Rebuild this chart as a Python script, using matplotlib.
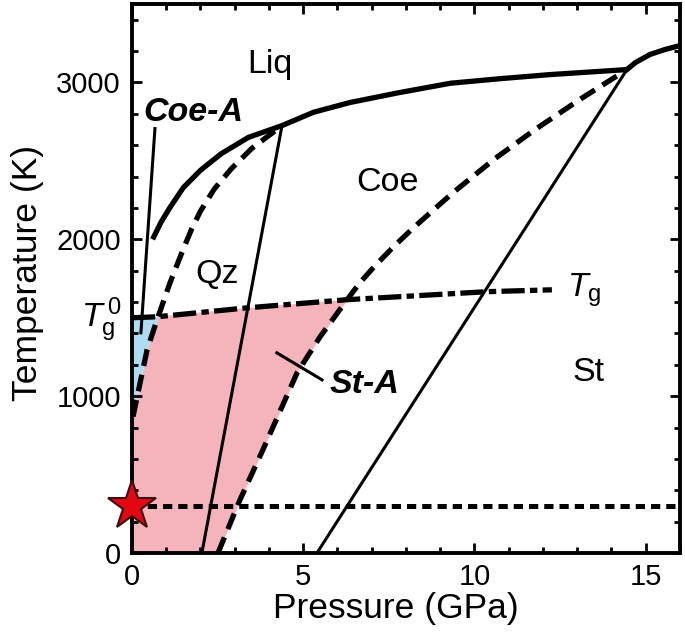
import numpy as np
import matplotlib
matplotlib.use("Agg")
import matplotlib.pyplot as plt
from matplotlib.patches import Polygon
from matplotlib.ticker import MultipleLocator

plt.rcParams['font.family'] = ['Liberation Sans', 'DejaVu Sans']
plt.rcParams['mathtext.fontset'] = 'custom'
plt.rcParams['mathtext.rm'] = 'Liberation Sans'
plt.rcParams['mathtext.it'] = 'Liberation Sans:italic'

# liquidus (thick solid)
liq_P = [0.6, 0.85, 1.1, 1.5, 2.0, 2.6, 3.4, 4.38, 5.3, 6.36, 7.82, 9.3, 10.8, 12.2, 14.45, 14.7, 15.12, 15.56, 16.0]
liq_T = [2000, 2110, 2200, 2330, 2440, 2545, 2650, 2725, 2810, 2872, 2936, 2995, 3025, 3050, 3082, 3127, 3178, 3210, 3235]

# Qz / Coe metastable boundary (dashed, left)
d1_P = [0.03, 0.15, 0.44, 0.73, 1.11, 1.49, 1.75, 2.0, 2.4, 2.9, 3.5, 4.38]
d1_T = [870, 996, 1295, 1487, 1723, 1934, 2070, 2180, 2320, 2450, 2580, 2725]

# Coe / St metastable boundary (dashed, right)
d2_P = [2.51, 3.15, 3.82, 4.82, 5.49, 6.28, 6.65, 7.04, 7.6, 8.2, 8.8, 9.37, 10.6, 11.77, 13.1, 14.45]
d2_T = [0, 338, 657, 1149, 1378, 1615, 1722, 1818, 1945, 2070, 2187, 2297, 2515, 2700, 2895, 3082]

# Qz-Coe and Coe-St transitions (thin solid)
qc_P = [2.04, 4.38]
qc_T = [0, 2725]
cs_P = [5.4, 14.45]
cs_T = [0, 3082]

# glass transition (dash-dot)
tg_P = [0, 0.73, 3.36, 6.28, 10.36, 12.26]
tg_T = [1500, 1506, 1563, 1615, 1666, 1678]

# Coe-A pointer and St-A tick
coeA_P = [0.67, 0.26]
coeA_T = [2706, 1404]
stA_P = [4.23, 5.55]
stA_T = [1276, 1104]

room_T = 300

fig = plt.figure(figsize=(6.85, 6.38), dpi=100)
ax = fig.add_axes([0.1927, 0.1332, 0.8, 0.8605])
ax.set_xlim(0, 16)
ax.set_ylim(0, 3500)

# fills below Tg line
T_grid = np.linspace(0, 1800, 400)
left = np.where(T_grid < d1_T[0], 0, np.interp(T_grid, d1_T, d1_P))
right = np.interp(T_grid, d2_T, d2_P)
clip = Polygon(list(zip([0] + tg_P + [16, 16], [0] + tg_T + [tg_T[-1], 0])),
               closed=True, transform=ax.transData)
pink = ax.fill_betweenx(T_grid, left, right, color='#f5b4bb', lw=0, zorder=1)
pink.set_clip_path(clip)
Tb = np.linspace(d1_T[0], 1800, 200)
blue = ax.fill_betweenx(Tb, 0, np.interp(Tb, d1_T, d1_P), color='#aedcf2', lw=0, zorder=1)
blue.set_clip_path(clip)

ax.plot(liq_P, liq_T, color='k', lw=3.8, solid_capstyle='butt', zorder=3)
ax.plot(d1_P, d1_T, color='k', lw=3.8, dashes=(3.2, 1.7), zorder=3)
ax.plot(d2_P, d2_T, color='k', lw=3.8, dashes=(3.2, 1.7), zorder=3)
ax.plot(qc_P, qc_T, color='k', lw=2.2, zorder=3)
ax.plot(cs_P, cs_T, color='k', lw=2.2, zorder=3)
ax.plot(tg_P, tg_T, color='k', lw=3.8, dashes=(4.4, 1, 1.4, 1), zorder=3)
ax.plot(coeA_P, coeA_T, color='k', lw=2.2, zorder=3)
ax.plot(stA_P, stA_T, color='k', lw=2.2, zorder=3)
ax.plot([0, 16], [room_T, room_T], color='k', lw=3.6, dashes=(1.85, 1.2), zorder=3)
ax.plot([0], [room_T], marker='*', ms=37, color='#e30613', mec='#3a1010', mew=1.5,
        clip_on=False, zorder=5)

fs = 24.5
ax.text(4.03, 3114, 'Liq', fontsize=fs, ha='center', va='center')
ax.text(7.47, 2361, 'Coe', fontsize=fs, ha='center', va='center')
ax.text(2.48, 1774, 'Qz', fontsize=fs, ha='center', va='center')
ax.text(13.34, 1149, 'St', fontsize=fs, ha='center', va='center')
ax.text(5.78, 1075, 'St-A', fontsize=fs, fontweight='bold', fontstyle='italic',
        ha='left', va='center')
ax.text(0.33, 2808, 'Coe-A', fontsize=fs, fontweight='bold', fontstyle='italic',
        ha='left', va='center')
ax.text(12.7, 1678, r'$T_\mathrm{g}$', fontsize=fs, ha='left', va='center')
ax.text(-0.3, 1490, r'$T_\mathrm{g}^{\,0}$', fontsize=fs, ha='right', va='center',
        clip_on=False)

ax.xaxis.set_major_locator(MultipleLocator(5))
ax.xaxis.set_minor_locator(MultipleLocator(1))
ax.yaxis.set_major_locator(MultipleLocator(1000))
ax.yaxis.set_minor_locator(MultipleLocator(200))
ax.tick_params(which='both', direction='in', top=True, right=True, width=2,
               labelsize=21)
ax.tick_params(which='major', length=7)
ax.tick_params(which='minor', length=4.3)
ax.tick_params(axis='x', pad=7)
ax.tick_params(axis='y', pad=8)
for s in ax.spines.values():
    s.set_linewidth(2.8)

ax.set_xlabel('Pressure (GPa)', fontsize=25.5, labelpad=1)
ax.set_ylabel('Temperature (K)', fontsize=25.5, labelpad=9)
ax.xaxis.label.set_x(0.482)
ax.yaxis.label.set_y(0.51)

fig.savefig('out.png', dpi=100)
